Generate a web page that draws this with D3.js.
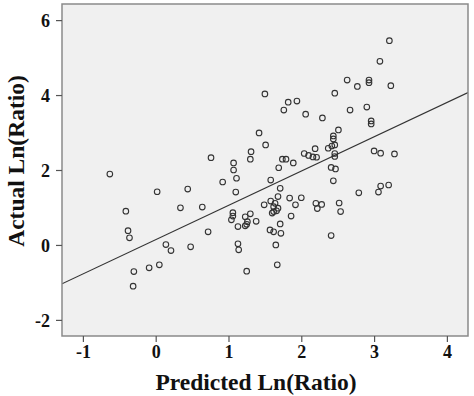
<!DOCTYPE html>
<html>
<head>
<meta charset="utf-8">
<script src="https://cdn.jsdelivr.net/npm/d3@7"></script>
<style>
  body { margin: 0; background: #fff; }
  .tick text { font-family: "Liberation Serif", "Times New Roman", serif; font-weight: bold; font-size: 18px; fill: #111; }
  .axis-title { font-family: "Liberation Serif", "Times New Roman", serif; font-weight: bold; font-size: 23.5px; fill: #111; }
</style>
</head>
<body>
<div id="chart"></div>
<script>
// predicted vs actual ln(ratio)
var predicted = [-0.63, -0.41, -0.38, -0.36, -0.30, -0.31, -0.09, 0.05, 0.02, 0.14,
  0.21, 0.34, 0.44, 0.48, 0.64, 0.72, 0.76, 0.92, 1.07, 1.07,
  1.11, 1.10, 1.06, 1.06, 1.04, 1.23, 1.30, 1.26, 1.38, 1.13,
  1.23, 1.25, 1.13, 1.14, 1.25, 1.31, 1.30, 1.42, 1.51, 1.50,
  1.82, 1.94, 1.76, 2.06, 2.29, 1.74, 1.79, 1.69, 1.58, 1.71,
  1.68, 1.58, 1.64, 1.62, 1.68, 1.66, 1.62, 1.60, 1.49, 1.57,
  1.62, 1.71, 1.72, 1.65, 1.67, 1.89, 1.84, 2.00, 1.92, 1.86,
  2.04, 2.10, 2.16, 2.21, 2.19, 2.37, 2.42, 2.46, 2.44, 2.44,
  2.51, 2.46, 2.67, 2.63, 2.77, 2.93, 2.93, 3.23, 3.08, 3.21,
  2.90, 2.96, 2.96, 2.46, 2.46, 3.00, 3.09, 3.28, 2.41, 2.47,
  2.44, 2.79, 3.06, 3.09, 3.20, 2.20, 2.28, 2.22, 2.52, 2.54,
  2.41];
var actual = [1.89, 0.90, 0.38, 0.19, -0.71, -1.10, -0.61, -0.53, 1.42, 0.01,
  -0.15, 0.99, 1.49, -0.05, 1.01, 0.35, 2.33, 1.68, 2.19, 2.00,
  1.78, 1.41, 0.86, 0.77, 0.67, 0.75, 0.83, 0.62, 0.63, 0.49,
  0.51, 0.55, 0.03, -0.13, -0.70, 2.49, 2.29, 2.99, 2.67, 4.03,
  3.81, 3.84, 3.60, 3.49, 3.39, 2.29, 2.29, 2.06, 1.73, 1.51,
  1.29, 1.17, 1.11, 1.02, 0.98, 0.91, 0.89, 0.85, 1.07, 0.40,
  0.35, 0.56, 0.31, 0.00, -0.53, 2.19, 1.25, 1.26, 1.07, 0.77,
  2.44, 2.39, 2.35, 2.34, 2.57, 2.58, 2.64, 2.67, 2.91, 2.83,
  3.07, 4.05, 3.60, 4.40, 4.23, 4.40, 4.33, 4.25, 4.90, 5.45,
  3.68, 3.31, 3.23, 2.44, 2.36, 2.51, 2.45, 2.43, 2.07, 2.03,
  1.71, 1.39, 1.41, 1.57, 1.60, 1.11, 1.08, 0.97, 1.12, 0.89,
  0.25];
var xTicks = [-1, 0, 1, 2, 3, 4];
var yTicks = [-2, 0, 2, 4, 6];
// fit line
var fitIntercept = 0.14;
var fitSlope = 0.915;

var margin = {top: 4, right: 6, bottom: 60, left: 62};
var width = 474 - margin.left - margin.right;
var height = 396 - margin.top - margin.bottom;

var svg = d3.select('#chart').append('svg')
  .attr('width', 474)
  .attr('height', 396);

var g = svg.append('g')
  .attr('transform', 'translate(' + margin.left + ',' + margin.top + ')');

var x = d3.scaleLinear().domain([-1.287, 4.29]).range([0, width]);
var y = d3.scaleLinear().domain([-2.43, 6.43]).range([height, 0]);

g.append('rect')
  .attr('width', width)
  .attr('height', height)
  .attr('fill', '#f0f0f0');

g.append('clipPath').attr('id', 'plot-clip')
  .append('rect').attr('width', width).attr('height', height);

// regression line
var xd = x.domain();
g.append('line')
  .attr('clip-path', 'url(#plot-clip)')
  .attr('x1', x(xd[0])).attr('y1', y(fitIntercept + fitSlope * xd[0]))
  .attr('x2', x(xd[1])).attr('y2', y(fitIntercept + fitSlope * xd[1]))
  .attr('stroke', '#333')
  .attr('stroke-width', 1.2);

var pts = predicted.map(function(p, i) { return {p: p, a: actual[i]}; });

g.selectAll('.dot')
  .data(pts)
  .enter().append('circle')
  .attr('class', 'dot')
  .attr('cx', function(d) { return x(d.p); })
  .attr('cy', function(d) { return y(d.a); })
  .attr('r', 2.8)
  .attr('fill', 'none')
  .attr('stroke', '#333')
  .attr('stroke-width', 1.1);

// frame
g.append('rect')
  .attr('width', width)
  .attr('height', height)
  .attr('fill', 'none')
  .attr('stroke', '#8a8a8a')
  .attr('stroke-width', 1.5);

// plain hyphen for negatives, like the original
function plain(d) { return String(d); }

var xAxis = g.append('g')
  .attr('transform', 'translate(0,' + height + ')')
  .call(d3.axisBottom(x).tickValues(xTicks).tickSize(6).tickPadding(3).tickFormat(plain));
var yAxis = g.append('g')
  .call(d3.axisLeft(y).tickValues(yTicks).tickSize(6).tickPadding(6).tickFormat(plain));

[xAxis, yAxis].forEach(function(a) {
  a.select('.domain').remove();
  a.selectAll('.tick line').attr('stroke', '#555').attr('stroke-width', 1.2);
});
yAxis.selectAll('.tick text').attr('dy', '0.35em');

svg.append('text')
  .attr('class', 'axis-title')
  .attr('x', 256)
  .attr('y', 390)
  .attr('text-anchor', 'middle')
  .text('Predicted Ln(Ratio)');

svg.append('text')
  .attr('class', 'axis-title')
  .attr('transform', 'translate(24,161) rotate(-90)')
  .attr('text-anchor', 'middle')
  .text('Actual Ln(Ratio)');
</script>
</body>
</html>
